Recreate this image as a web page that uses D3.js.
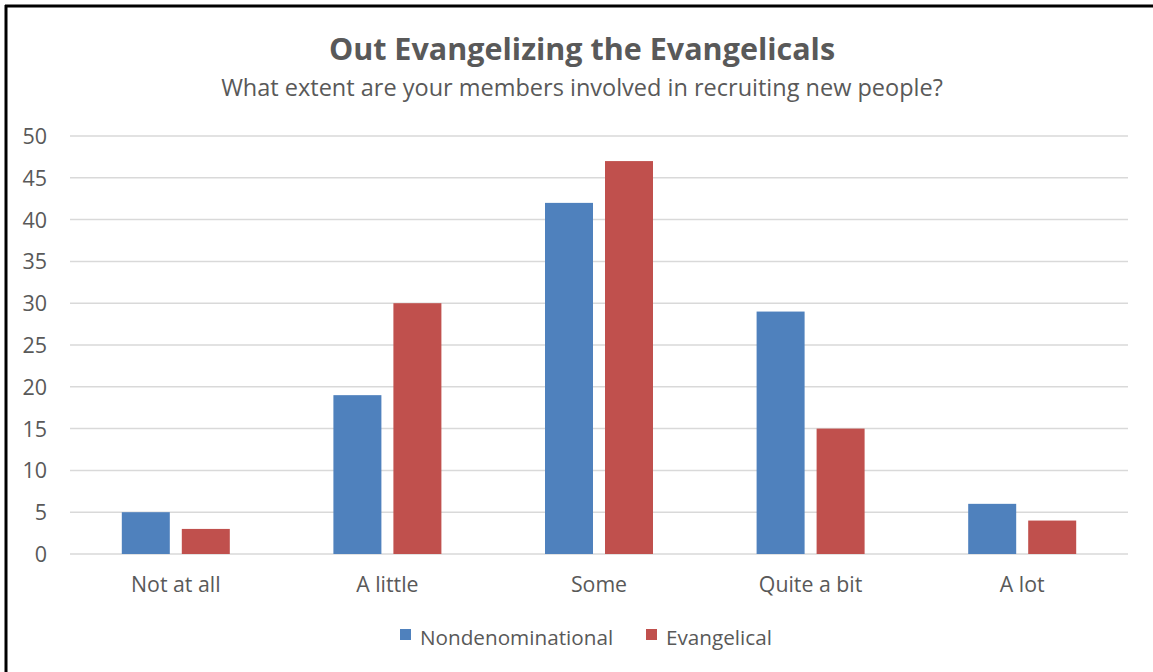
<!DOCTYPE html>
<html><head><meta charset="utf-8">
<script src="https://cdn.jsdelivr.net/npm/d3@7"></script>
<style>body{margin:0;background:#fff;} text{font-family:"Open Sans","Liberation Sans",Arial,sans-serif;}</style>
</head><body>
<svg id="c" width="1153" height="672"></svg>
<script>
const categories = ["Not at all","A little","Some","Quite a bit","A lot"];
const seriesNames = ["Nondenominational","Evangelical"];
const nondenominational = [5,19,42,29,6];
const evangelical = [3,30,47,15,4];
const yTicks = [0,5,10,15,20,25,30,35,40,45,50];
const colors = ["#4F81BD","#C0504D"];
const title = "Out Evangelizing the Evangelicals";
const subtitle = "What extent are your members involved in recruiting new people?";

(function(){
const svg = d3.select("#c");
svg.append("rect").attr("x",0).attr("y",0).attr("width",1153).attr("height",672).attr("fill","#fff");
svg.append("line").attr("x1",6).attr("x2",6).attr("y1",5).attr("y2",672).attr("stroke","#000").attr("stroke-width",3);
svg.append("line").attr("x1",5).attr("x2",1153).attr("y1",6).attr("y2",6).attr("stroke","#000").attr("stroke-width",3);

const pL=70,pR=1128,pT=136,pB=554;
const x = d3.scaleBand().domain(categories).range([pL,pR]);
const y = d3.scaleLinear().domain([0,50]).range([pB,pT]);

svg.append("text").attr("x",582).attr("y",60).attr("text-anchor","middle")
  .attr("font-size",30.5).attr("font-weight","bold").attr("fill","#595959").text(title);
svg.append("text").attr("x",582).attr("y",96).attr("text-anchor","middle")
  .attr("font-size",23.5).attr("fill","#595959").text(subtitle);

const g = svg.append("g");
g.selectAll("line.grid").data(yTicks).join("line")
  .attr("x1",pL).attr("x2",pR).attr("y1",d=>y(d)).attr("y2",d=>y(d))
  .attr("stroke","#d9d9d9").attr("stroke-width",1.5);
g.selectAll("text.yl").data(yTicks).join("text")
  .attr("x",47).attr("y",d=>y(d)+8).attr("text-anchor","end")
  .attr("font-size",21.5).attr("fill","#595959").text(d=>d);

const data = categories.map((c,i)=>({c, vals:[nondenominational[i],evangelical[i]]}));
const bw = 48, gap = 12;
data.forEach(d=>{
  const cx = x(d.c)+x.bandwidth()/2;
  d.vals.forEach((v,j)=>{
    const bx = j===0 ? cx-gap/2-bw : cx+gap/2;
    svg.append("rect").attr("x",bx).attr("y",y(v)).attr("width",bw).attr("height",y(0)-y(v)).attr("fill",colors[j]);
  });
});
svg.selectAll("text.xl").data(categories).join("text")
  .attr("x",d=>x(d)+x.bandwidth()/2).attr("y",592).attr("text-anchor","middle")
  .attr("font-size",21.3).attr("fill","#595959").text(d=>d);

const leg = [{n:seriesNames[0],x:400},{n:seriesNames[1],x:646}];
leg.forEach((l,i)=>{
  svg.append("rect").attr("x",l.x).attr("y",629).attr("width",11).attr("height",11).attr("fill",colors[i]);
  svg.append("text").attr("x",l.x+20).attr("y",645).attr("font-size",20.7).attr("fill","#595959").text(l.n);
});
})();
</script>
</body></html>
